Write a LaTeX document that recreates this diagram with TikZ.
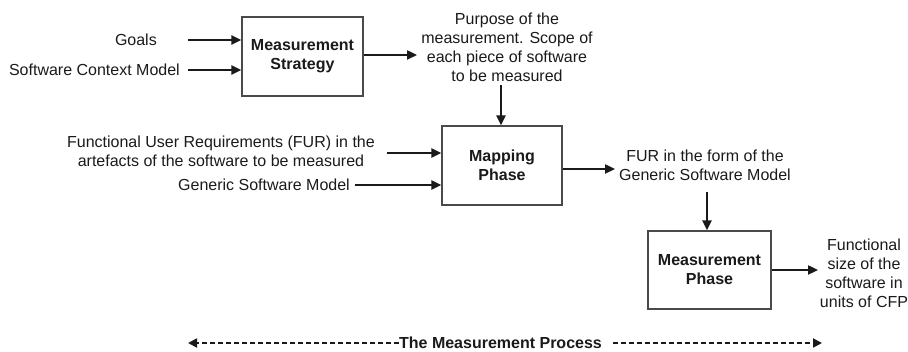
\documentclass[tikz,border=0pt]{standalone}
\usepackage{fontspec}
\setmainfont{Liberation Sans}
\usetikzlibrary{arrows.meta}
\definecolor{ink}{HTML}{1A1A1A}
\definecolor{frame}{HTML}{4A4A4A}
\tikzset{
  lbl/.style={text=ink, inner sep=0pt, align=center, font=\fontsize{16}{19}\selectfont},
  proc/.style={draw=frame, line width=1.3pt, fill=white, text=ink, align=center,
    font=\fontsize{16}{19}\selectfont\bfseries},
  flow/.style={draw=ink, line width=2.3pt, -{Triangle[length=10pt,width=9pt]}},
  span/.style={draw=ink, line width=1.8pt, dash pattern=on 5pt off 3pt,
    -{Triangle[length=9pt,width=9pt]}}
}
\begin{document}
\begin{tikzpicture}[x=1pt,y=-1pt]
\useasboundingbox (0,0) rectangle (908,352);

% process boxes
\node[proc, minimum width=121pt, minimum height=79pt] (strat) at (302.5,56.5) {Measurement\\Strategy};
\node[proc, minimum width=120pt, minimum height=79pt] (map) at (502,165.5) {Mapping\\Phase};
\node[proc, minimum width=123pt, minimum height=78pt] (meas) at (709.5,270) {Measurement\\Phase};

% inputs of the strategy
\node[lbl, anchor=east] (goals) at (157,40) {Goals};
\node[lbl, anchor=east] (scm) at (180,70) {Software Context Model};
\coordinate (g0) at (188,40);
\coordinate (s0) at (188,70);
\draw[flow] (g0) -- (g0 -| strat.west);
\draw[flow] (s0) -- (s0 -| strat.west);

% strategy output
\node[lbl] (purpose) at (507,47.5) {Purpose of the\\measurement. Scope of\\each piece of software\\to be measured};
\coordinate (p0) at (strat.east |- 0,55);
\coordinate (p1) at (417,55);
\draw[flow] (p0) -- (p1);
\coordinate (pd) at (501,85);
\draw[flow] (pd) -- (pd |- map.north);

% inputs of the mapping phase
\node[lbl, anchor=east] (fur) at (375,151) {Functional User Requirements (FUR) in the\\artefacts of the software to be measured};
\node[lbl, anchor=east] (gsm) at (350,185) {Generic Software Model};
\coordinate (f0) at (387,153);
\coordinate (m0) at (355,185);
\draw[flow] (f0) -- (f0 -| map.west);
\draw[flow] (m0) -- (m0 -| map.west);

% mapping output
\node[lbl] (form) at (705,165.5) {FUR in the form of the\\Generic Software Model};
\coordinate (q0) at (map.east |- 0,169);
\coordinate (q1) at (615,169);
\draw[flow] (q0) -- (q1);
\coordinate (qd) at (707,192);
\draw[flow] (qd) -- (qd |- meas.north);

% measurement output
\node[lbl] (size) at (864,273) {Functional\\size of the\\software in\\units of CFP};
\coordinate (r1) at (818,270);
\draw[flow] (meas.east |- r1) -- (r1);

% extent of the whole process
\node[lbl, font=\fontsize{16}{19}\selectfont\bfseries] (whole) at (500.5,343) {The Measurement Process};
\coordinate (wl) at (188,343);
\coordinate (wr) at (822,343);
\coordinate (wr0) at (613,343);
\draw[span] (whole.west) -- (wl);
\draw[span] (wr0) -- (wr);
\end{tikzpicture}
\end{document}
